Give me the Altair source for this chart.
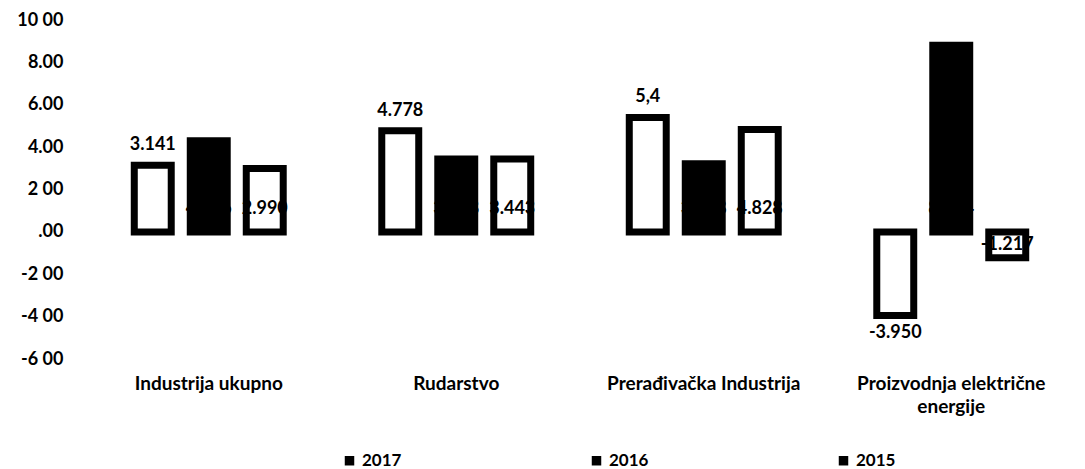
import altair as alt
import pandas as pd

categories = ["Industrija ukupno", "Rudarstvo", "Prerađivačka Industrija",
              "Proizvodnja električne energije"]
series = ["2017", "2016", "2015"]
values_2017 = [3.141, 4.778, 5.4, -3.950]
values_2016 = [4.296, 3.438, 3.218, 8.804]
values_2015 = [2.990, 3.443, 4.828, -1.217]
labels_2017 = ["3.141", "4.778", "5,4", "-3.950"]
labels_2016 = ["4.296", "3.438", "3.218", "8.804"]
labels_2015 = ["2.990", "3.443", "4.828", "-1.217"]
y_tick_values = [-6, -4, -2, 0, 2, 4, 6, 8, 10]
y_tick_labels = ["-6 00", "-4 00", "-2 00", ".00", "2 00", "4.00", "6.00", "8.00", "10 00"]

rows = []
for s, vals, labs in [("2017", values_2017, labels_2017),
                      ("2016", values_2016, labels_2016),
                      ("2015", values_2015, labels_2015)]:
    for c, v, l in zip(categories, vals, labs):
        rows.append({"category": c, "series": s, "value": v, "label": l})
df = pd.DataFrame(rows)

FONT = "Lato"
FS = 18

vals_js = "[" + ",".join(str(v) for v in y_tick_values) + "]"
labs_js = "[" + ",".join("'" + l + "'" for l in y_tick_labels) + "]"
y_label_expr = f"{labs_js}[indexof({vals_js}, datum.value)]"

x_enc = alt.X("category:N", sort=categories,
              scale=alt.Scale(paddingInner=0, paddingOuter=0),
              axis=alt.Axis(title=None, domain=False, ticks=False, labelAngle=0,
                            labelPadding=15, labelFontSize=19, labelFontWeight="bold",
                            labelFont=FONT, labelColor="black", labelLineHeight=23,
                            labelLimit=400,
                            labelExpr="datum.label == 'Proizvodnja električne energije' ? ['Proizvodnja električne', 'energije'] : datum.label"))
xoff_enc = alt.XOffset("series:N", sort=series,
                       scale=alt.Scale(paddingInner=0.34, paddingOuter=0.88))

base = alt.Chart(df)

bars = base.transform_calculate(
    style="datum.series == '2016' ? 'solid' : 'hollow'"
).mark_bar(strokeWidth=7, stroke="black").encode(
    x=x_enc,
    xOffset=xoff_enc,
    y=alt.Y("value:Q",
            scale=alt.Scale(domain=[-6, 10], nice=False, zero=True),
            axis=alt.Axis(title=None, values=y_tick_values, domain=False, ticks=False,
                          grid=False, labelPadding=22, labelFontSize=FS,
                          labelFontWeight="bold", labelFont=FONT, labelColor="black",
                          labelExpr=y_label_expr)),
    fill=alt.Fill("style:N",
                  scale=alt.Scale(domain=["hollow", "solid"], range=["white", "black"]),
                  legend=None),
)

legend_layer = base.transform_filter("false").mark_square(opacity=1).encode(
    x=alt.X("category:N", sort=categories),
    y=alt.Y("value:Q"),
    color=alt.Color("series:N", sort=series,
                    scale=alt.Scale(domain=series, range=["black", "black", "black"]),
                    legend=alt.Legend(title=None, orient="none", legendX=256, legendY=432,
                                      direction="horizontal", columnPadding=186,
                                      symbolType="square", symbolSize=90,
                                      symbolOpacity=1, labelOffset=4,
                                      labelFontSize=17, labelFontWeight="bold",
                                      labelFont=FONT, labelColor="black")),
)

texts = base.transform_calculate(
    pos="datum.series == '2017' ? (datum.value >= 0 ? datum.value + 0.95 : datum.value - 0.8) : (datum.value >= 0 ? 1.1 : -0.6)"
).mark_text(fontSize=FS, fontWeight="bold", font=FONT, color="black", baseline="middle").encode(
    x=alt.X("category:N", sort=categories),
    xOffset=alt.XOffset("series:N", sort=series),
    y=alt.Y("pos:Q"),
    text="label:N",
)

chart = alt.layer(bars, legend_layer, texts).properties(
    width=990, height=339,
    padding={"left": 77, "top": 12, "right": 0, "bottom": 110},
    autosize=alt.AutoSizeParams(type="none"),
).configure_view(stroke=None).configure_axis(grid=False)

chart.save("out.html", embed_options={"renderer": "svg", "actions": False})
